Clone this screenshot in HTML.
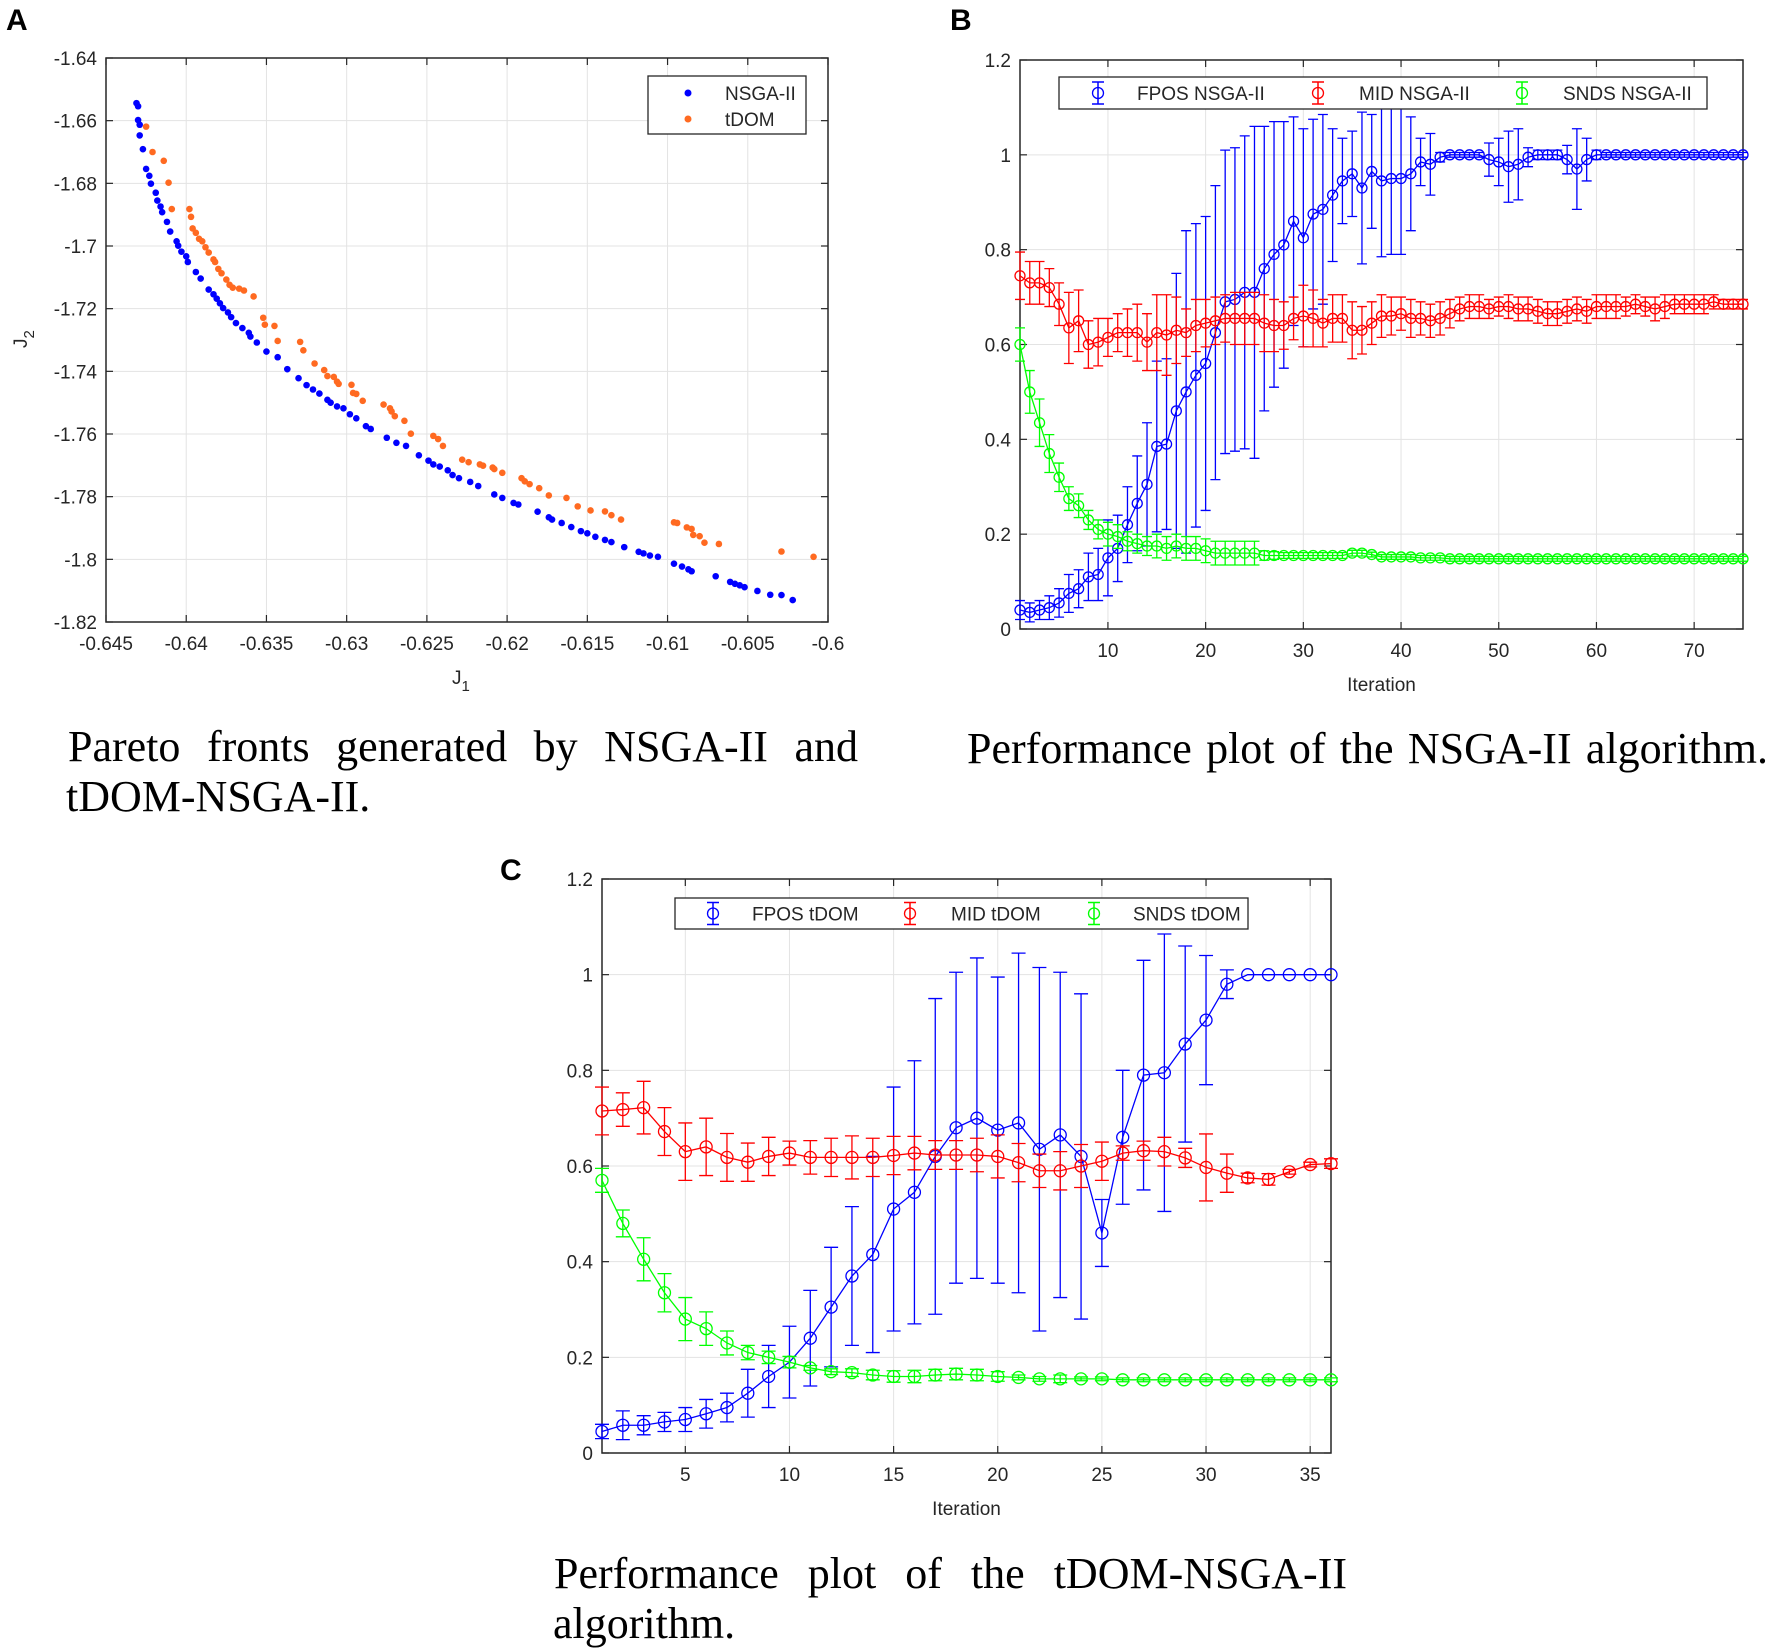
<!DOCTYPE html>
<html><head><meta charset="utf-8">
<style>
html,body{margin:0;padding:0;background:#fff;}
body{width:1772px;height:1651px;overflow:hidden;position:relative;}
svg{position:absolute;left:0;top:0;}
.tk{font-family:"Liberation Sans",Arial,sans-serif;font-size:19px;fill:#262626;}
.cap{font-family:"Liberation Serif","Times New Roman",serif;font-size:44px;fill:#000;}
.pl{font-family:"Liberation Sans",Arial,sans-serif;font-size:30px;font-weight:bold;fill:#000;}
</style></head>
<body>
<svg id="fig" width="1772" height="1651" viewBox="0 0 1772 1651">
<text class="pl" x="6" y="30">A</text>
<text class="pl" x="950" y="30">B</text>
<text class="pl" x="500" y="880">C</text>
<text class="cap jus" data-w="790" x="68" y="761">Pareto fronts generated by NSGA-II and</text>
<text class="cap" x="66" y="811">tDOM-NSGA-II.</text>
<text class="cap jus" data-w="801" x="967" y="763">Performance plot of the NSGA-II algorithm.</text>
<text class="cap jus" data-w="793" x="554" y="1588">Performance plot of the tDOM-NSGA-II</text>
<text class="cap" x="553" y="1638">algorithm.</text>
</svg>
<script>
// ---------- Panel A data ----------
const nsgaX = [-0.6431,-0.6430,-0.6430,-0.6429,-0.6429,-0.6427,-0.6425,-0.6423,-0.6422,-0.6419,-0.6418,-0.6416,-0.6415,-0.6412,-0.6410,-0.6406,-0.6405,-0.6403,-0.6400,-0.6399,-0.6394,-0.6391,-0.6386,-0.6383,-0.6381,-0.6379,-0.6377,-0.6374,-0.6372,-0.6369,-0.6365,-0.6361,-0.6360,-0.6356,-0.6350,-0.6343,-0.6337,-0.6330,-0.6325,-0.6321,-0.6317,-0.6312,-0.6310,-0.6306,-0.6302,-0.6298,-0.6294,-0.6288,-0.6285,-0.6275,-0.6269,-0.6263,-0.6255,-0.6249,-0.6246,-0.6242,-0.6237,-0.6234,-0.6230,-0.6223,-0.6218,-0.6208,-0.6203,-0.6196,-0.6193,-0.6181,-0.6174,-0.6172,-0.6166,-0.6160,-0.6154,-0.6150,-0.6145,-0.6139,-0.6135,-0.6127,-0.6118,-0.6115,-0.6111,-0.6106,-0.6096,-0.6091,-0.6087,-0.6085,-0.6070,-0.6061,-0.6058,-0.6055,-0.6052,-0.6044,-0.6036,-0.6029,-0.6022];
const nsgaY = [-1.6544,-1.6554,-1.6598,-1.6613,-1.6647,-1.6691,-1.6754,-1.6776,-1.6801,-1.6830,-1.6855,-1.6874,-1.6892,-1.6923,-1.6954,-1.6985,-1.6999,-1.7018,-1.7033,-1.7051,-1.7083,-1.7104,-1.7139,-1.7154,-1.7168,-1.7183,-1.7198,-1.7212,-1.7227,-1.7246,-1.7262,-1.7277,-1.7289,-1.7308,-1.7337,-1.7355,-1.7393,-1.7422,-1.7444,-1.7458,-1.7471,-1.7491,-1.7500,-1.7512,-1.7518,-1.7537,-1.7550,-1.7575,-1.7584,-1.7612,-1.7628,-1.7638,-1.7668,-1.7685,-1.7697,-1.7704,-1.7716,-1.7731,-1.7741,-1.7753,-1.7766,-1.7793,-1.7804,-1.7820,-1.7825,-1.7848,-1.7866,-1.7873,-1.7884,-1.7897,-1.7910,-1.7917,-1.7928,-1.7938,-1.7945,-1.7961,-1.7976,-1.7981,-1.7988,-1.7992,-1.8014,-1.8023,-1.8032,-1.8038,-1.8054,-1.8072,-1.8078,-1.8083,-1.8089,-1.8101,-1.8113,-1.8114,-1.8130];
const tdomX = [-0.6425,-0.6421,-0.6414,-0.6411,-0.6409,-0.6398,-0.6397,-0.6396,-0.6394,-0.6392,-0.6390,-0.6388,-0.6386,-0.6383,-0.6382,-0.6380,-0.6378,-0.6375,-0.6373,-0.6371,-0.6367,-0.6364,-0.6358,-0.6352,-0.6351,-0.6345,-0.6343,-0.6329,-0.6327,-0.6320,-0.6314,-0.6312,-0.6308,-0.6306,-0.6305,-0.6297,-0.6296,-0.6294,-0.6290,-0.6277,-0.6273,-0.6272,-0.6270,-0.6264,-0.6260,-0.6246,-0.6243,-0.6240,-0.6228,-0.6224,-0.6217,-0.6215,-0.6209,-0.6208,-0.6203,-0.6191,-0.6189,-0.6186,-0.6180,-0.6174,-0.6163,-0.6156,-0.6148,-0.6139,-0.6135,-0.6129,-0.6096,-0.6094,-0.6088,-0.6085,-0.6084,-0.6080,-0.6077,-0.6068,-0.6029,-0.6009];
const tdomY = [-1.6619,-1.6700,-1.6728,-1.6798,-1.6882,-1.6882,-1.6907,-1.6944,-1.6958,-1.6977,-1.6985,-1.7004,-1.7021,-1.7043,-1.7051,-1.7073,-1.7087,-1.7107,-1.7124,-1.7133,-1.7136,-1.7142,-1.7161,-1.7229,-1.7251,-1.7255,-1.7303,-1.7306,-1.7333,-1.7375,-1.7396,-1.7415,-1.7418,-1.7433,-1.7440,-1.7443,-1.7469,-1.7472,-1.7494,-1.7506,-1.7518,-1.7528,-1.7543,-1.7558,-1.7599,-1.7606,-1.7616,-1.7638,-1.7682,-1.7690,-1.7697,-1.7701,-1.7707,-1.7712,-1.7724,-1.7741,-1.7751,-1.7760,-1.7773,-1.7796,-1.7804,-1.7831,-1.7844,-1.7847,-1.7859,-1.7873,-1.7882,-1.7884,-1.7898,-1.7903,-1.7922,-1.7926,-1.7947,-1.7951,-1.7975,-1.7992];
const aXTicks = [-0.645,-0.64,-0.635,-0.63,-0.625,-0.62,-0.615,-0.61,-0.605,-0.6];
const aYTicks = [-1.64,-1.66,-1.68,-1.7,-1.72,-1.74,-1.76,-1.78,-1.8,-1.82];

// ---------- Panel B data ----------
const bFposMean = [0.04,0.035,0.04,0.045,0.055,0.075,0.085,0.11,0.115,0.15,0.17,0.22,0.265,0.305,0.385,0.39,0.46,0.5,0.535,0.56,0.625,0.69,0.695,0.71,0.71,0.76,0.79,0.81,0.86,0.825,0.875,0.885,0.915,0.945,0.96,0.93,0.965,0.945,0.95,0.95,0.96,0.985,0.98,0.995,1,1,1,1,0.99,0.985,0.975,0.98,0.995,1,1,1,0.99,0.97,0.99,1,1,1,1,1,1,1,1,1,1,1,1,1,1,1,1];
const bFposErr = [0.02,0.02,0.02,0.025,0.03,0.04,0.04,0.05,0.055,0.08,0.07,0.08,0.1,0.13,0.18,0.18,0.29,0.34,0.32,0.31,0.31,0.32,0.32,0.33,0.35,0.3,0.28,0.26,0.22,0.23,0.2,0.2,0.14,0.09,0.09,0.16,0.12,0.16,0.16,0.16,0.12,0.05,0.065,0.01,0.005,0.005,0.005,0.005,0.035,0.05,0.075,0.075,0.02,0.01,0.01,0.01,0.03,0.085,0.045,0.01,0.005,0.005,0.005,0.005,0.005,0.005,0.005,0.005,0.005,0.005,0.005,0.005,0.005,0.005,0.005];
const bMidMean = [0.745,0.73,0.73,0.72,0.685,0.635,0.65,0.6,0.605,0.615,0.625,0.625,0.625,0.605,0.625,0.62,0.63,0.625,0.64,0.645,0.65,0.655,0.655,0.655,0.655,0.645,0.64,0.64,0.655,0.66,0.655,0.645,0.655,0.655,0.63,0.63,0.645,0.66,0.66,0.665,0.655,0.655,0.65,0.655,0.665,0.675,0.68,0.68,0.675,0.68,0.68,0.675,0.675,0.67,0.665,0.665,0.67,0.675,0.67,0.68,0.68,0.68,0.68,0.685,0.68,0.675,0.68,0.685,0.685,0.685,0.685,0.69,0.685,0.685,0.685];
const bMidErr = [0.05,0.045,0.045,0.04,0.045,0.075,0.065,0.05,0.05,0.04,0.04,0.05,0.06,0.06,0.08,0.085,0.07,0.05,0.055,0.05,0.05,0.05,0.055,0.055,0.055,0.06,0.055,0.05,0.045,0.065,0.06,0.05,0.05,0.05,0.06,0.05,0.045,0.045,0.04,0.035,0.04,0.035,0.035,0.035,0.03,0.025,0.025,0.025,0.02,0.02,0.025,0.025,0.025,0.025,0.025,0.025,0.025,0.025,0.025,0.025,0.025,0.025,0.02,0.02,0.02,0.025,0.025,0.02,0.02,0.02,0.02,0.015,0.01,0.01,0.01];
const bSndsMean = [0.6,0.5,0.435,0.37,0.32,0.275,0.26,0.23,0.21,0.2,0.195,0.185,0.18,0.175,0.175,0.17,0.175,0.17,0.17,0.165,0.16,0.16,0.16,0.16,0.16,0.155,0.155,0.155,0.155,0.155,0.155,0.155,0.155,0.155,0.16,0.16,0.157,0.152,0.152,0.152,0.152,0.15,0.15,0.15,0.148,0.148,0.148,0.148,0.148,0.148,0.148,0.148,0.148,0.148,0.148,0.148,0.148,0.148,0.148,0.148,0.148,0.148,0.148,0.148,0.148,0.148,0.148,0.148,0.148,0.148,0.148,0.148,0.148,0.148,0.148];
const bSndsErr = [0.035,0.045,0.05,0.04,0.03,0.025,0.025,0.02,0.02,0.025,0.025,0.02,0.02,0.02,0.025,0.025,0.025,0.025,0.025,0.025,0.025,0.025,0.025,0.025,0.025,0.01,0.008,0.006,0.006,0.006,0.006,0.006,0.006,0.006,0.006,0.006,0.005,0.005,0.005,0.005,0.005,0.005,0.005,0.005,0.005,0.005,0.005,0.005,0.005,0.005,0.005,0.005,0.005,0.005,0.005,0.005,0.005,0.005,0.005,0.005,0.005,0.005,0.005,0.005,0.005,0.005,0.005,0.005,0.005,0.005,0.005,0.005,0.005,0.005,0.005];
const bXTicks = [10,20,30,40,50,60,70];
const yTicksPerf = [0,0.2,0.4,0.6,0.8,1,1.2];

// ---------- Panel C data ----------
const cFposMean = [0.045,0.058,0.058,0.065,0.07,0.082,0.095,0.125,0.16,0.19,0.24,0.305,0.37,0.415,0.51,0.545,0.62,0.68,0.7,0.675,0.69,0.635,0.665,0.62,0.46,0.66,0.79,0.795,0.855,0.905,0.98,1,1,1,1,1];
const cFposErr = [0.015,0.03,0.02,0.02,0.025,0.03,0.03,0.05,0.065,0.075,0.1,0.125,0.145,0.205,0.255,0.275,0.33,0.325,0.335,0.32,0.355,0.38,0.34,0.34,0.07,0.14,0.24,0.29,0.205,0.135,0.03,0,0,0,0,0];
const cMidMean = [0.715,0.718,0.722,0.672,0.63,0.64,0.618,0.608,0.62,0.627,0.618,0.618,0.618,0.618,0.622,0.627,0.623,0.623,0.623,0.62,0.607,0.59,0.59,0.6,0.61,0.627,0.632,0.63,0.617,0.597,0.585,0.575,0.572,0.588,0.603,0.605];
const cMidErr = [0.05,0.035,0.055,0.05,0.06,0.06,0.05,0.04,0.04,0.025,0.035,0.04,0.045,0.04,0.04,0.035,0.03,0.03,0.035,0.045,0.04,0.035,0.04,0.045,0.04,0.015,0.02,0.03,0.02,0.07,0.04,0.01,0.012,0.005,0.005,0.01];
const cSndsMean = [0.57,0.48,0.405,0.335,0.28,0.26,0.23,0.21,0.2,0.19,0.178,0.17,0.168,0.163,0.16,0.16,0.163,0.165,0.163,0.16,0.158,0.155,0.155,0.155,0.155,0.153,0.153,0.153,0.153,0.153,0.153,0.153,0.153,0.153,0.153,0.153];
const cSndsErr = [0.025,0.028,0.045,0.04,0.045,0.035,0.025,0.015,0.013,0.012,0.005,0.006,0.008,0.01,0.012,0.013,0.012,0.012,0.012,0.01,0.005,0.005,0.008,0.004,0.004,0.004,0.004,0.004,0.004,0.004,0.004,0.004,0.004,0.004,0.004,0.004];
const cXTicks = [5,10,15,20,25,30,35];

const NS = "http://www.w3.org/2000/svg";
const svg = document.getElementById('fig');
function mk(tag, attrs, parent) {
  const e = document.createElementNS(NS, tag);
  for (const k in attrs) e.setAttribute(k, attrs[k]);
  (parent || svg).appendChild(e);
  return e;
}
function linScale(d0, d1, r0, r1) { return v => r0 + (v - d0) / (d1 - d0) * (r1 - r0); }

// justify captions via word spacing
document.querySelectorAll('text.jus').forEach(t => {
  const target = +t.getAttribute('data-w');
  const w = t.getComputedTextLength();
  const gaps = t.textContent.split(' ').length - 1;
  if (gaps > 0) t.setAttribute('word-spacing', Math.max(-5, (target - w) / gaps));
});

function axesFrame(L, R, T, B, xs, ys, xTicks, yTicks, xFmt, yFmt, name) {
  const g = mk('g', {});
  
  
  xTicks.forEach(t => {
    const x = xs(t);
    const gl = mk('line', {x1:x, x2:x, y1:T, y2:B, stroke:'#e3e3e3', 'stroke-width':1}, g);
    
    
    mk('line', {x1:x, x2:x, y1:B, y2:B-7, stroke:'#262626', 'stroke-width':1.2}, g);
    mk('line', {x1:x, x2:x, y1:T, y2:T+7, stroke:'#262626', 'stroke-width':1.2}, g);
    const tx = mk('text', {x:x, y:B+28, 'text-anchor':'middle', class:'tk'}, g);
    tx.textContent = xFmt(t);
    
    
  });
  yTicks.forEach(t => {
    const y = ys(t);
    const gl = mk('line', {x1:L, x2:R, y1:y, y2:y, stroke:'#e3e3e3', 'stroke-width':1}, g);
    
    
    mk('line', {x1:L, x2:L+7, y1:y, y2:y, stroke:'#262626', 'stroke-width':1.2}, g);
    mk('line', {x1:R, x2:R-7, y1:y, y2:y, stroke:'#262626', 'stroke-width':1.2}, g);
    const tx = mk('text', {x:L-9, y:y+7, 'text-anchor':'end', class:'tk'}, g);
    tx.textContent = yFmt(t);
    
    
  });
  const fr = mk('rect', {x:L, y:T, width:R-L, height:B-T, fill:'none', stroke:'#262626', 'stroke-width':1.5}, g);
  
  
}

// ---------- Panel A ----------
(function(){
  const L=106,R=828,T=58,B=622;
  const xs = linScale(-0.645,-0.6,L,R), ys = linScale(-1.64,-1.82,T,B);
  axesFrame(L,R,T,B,xs,ys,aXTicks,aYTicks,v=>String(v),v=>String(v),'pareto');
  const gN = mk('g',{fill:'#0000ff'});
  
  
  nsgaX.forEach((x,i)=>{ const c=mk('circle',{cx:xs(x),cy:ys(nsgaY[i]),r:3.3},gN);
    
     });
  const gT = mk('g',{fill:'#ff6a21'});
  
  
  tdomX.forEach((x,i)=>{ const c=mk('circle',{cx:xs(x),cy:ys(tdomY[i]),r:3.3},gT);
    
     });
  const lg = mk('g',{});
  
  
  mk('rect',{x:648,y:76,width:158,height:58,fill:'#fff',stroke:'#262626','stroke-width':1.3},lg);
  mk('circle',{cx:688,cy:93,r:3.5,fill:'#0000ff'},lg);
  mk('circle',{cx:688,cy:119,r:3.5,fill:'#ff6a21'},lg);
  const t1=mk('text',{x:725,y:100,class:'tk'},lg); t1.textContent='NSGA-II';
  
  
  const t2=mk('text',{x:725,y:126,class:'tk'},lg); t2.textContent='tDOM';
  
  
  const xl=mk('text',{x:452,y:684,class:'tk','font-size':'22'}); xl.innerHTML='J<tspan dy="7" font-size="15">1</tspan>';
  
  
  const yl=mk('text',{x:0,y:0,class:'tk','font-size':'22',transform:'translate(27,348) rotate(-90)'}); yl.innerHTML='J<tspan dy="7" font-size="15">2</tspan>';
  
  
})();

function perfPanel(L,R,T,B,xmax,xTicks,series,name,cap,legendBox,legendItems){
  const xs = linScale(1,xmax,L,R), ys = linScale(0,1.2,B,T);
  axesFrame(L,R,T,B,xs,ys,xTicks,yTicksPerf,v=>String(v),v=>String(v),name);
  series.forEach(s=>{
    const g = mk('g',{stroke:s.color,fill:'none','stroke-width':1.3});
    
    
    let d='';
    s.mean.forEach((m,i)=>{
      const x=xs(i+1), y=ys(m), yh=ys(Math.min(m+s.err[i],1.2)), yl=ys(m-s.err[i]);
      if (s.err[i]>0){
        const eb=mk('path',{d:`M${x},${yl}V${yh}M${x-cap},${yl}H${x+cap}` + (m+s.err[i]<=1.2?`M${x-cap},${yh}H${x+cap}`:'')},g);
        
        
      }
      d += (i?'L':'M') + x + ',' + y;
    });
    const ln=mk('path',{d:d},g);
    
    
    s.mean.forEach((m,i)=>{
      const c=mk('circle',{cx:xs(i+1),cy:ys(m),r:s.r},g);
      
      
    });
  });
  const lg = mk('g',{});
  
  
  mk('rect',{x:legendBox[0],y:legendBox[1],width:legendBox[2],height:legendBox[3],fill:'#fff',stroke:'#262626','stroke-width':1.3},lg);
  const cy = legendBox[1]+legendBox[3]/2;
  legendItems.forEach(it=>{
    mk('path',{d:`M${it.x},${cy-11}V${cy+11}M${it.x-6},${cy-11}H${it.x+6}M${it.x-6},${cy+11}H${it.x+6}`,stroke:it.color,fill:'none','stroke-width':1.5},lg);
    mk('circle',{cx:it.x,cy:cy,r:5.5,stroke:it.color,fill:'none','stroke-width':1.3},lg);
    const t=mk('text',{x:it.tx,y:cy+7,class:'tk'},lg); t.textContent=it.label;
    
    
  });
  const xl=mk('text',{x:(L+R)/2,y:B+62,'text-anchor':'middle',class:'tk','font-size':'21'}); xl.textContent='Iteration';
  
  
}

perfPanel(1020,1743,60,629,75,bXTicks,[
  {name:'fpos-nsga-ii',color:'#0000ff',mean:bFposMean,err:bFposErr,r:5},
  {name:'mid-nsga-ii',color:'#ff0000',mean:bMidMean,err:bMidErr,r:5},
  {name:'snds-nsga-ii',color:'#00ff00',mean:bSndsMean,err:bSndsErr,r:5}
],'nsga-perf',5,[1059,77,648,32],[
  {x:1098,tx:1137,label:'FPOS NSGA-II',color:'#0000ff'},
  {x:1318,tx:1359,label:'MID NSGA-II',color:'#ff0000'},
  {x:1522,tx:1563,label:'SNDS NSGA-II',color:'#00ff00'}
]);

perfPanel(602,1331,879,1453,36,cXTicks,[
  {name:'fpos-tdom',color:'#0000ff',mean:cFposMean,err:cFposErr,r:6},
  {name:'mid-tdom',color:'#ff0000',mean:cMidMean,err:cMidErr,r:6},
  {name:'snds-tdom',color:'#00ff00',mean:cSndsMean,err:cSndsErr,r:6}
],'tdom-perf',7,[675,898,573,31],[
  {x:713,tx:752,label:'FPOS tDOM',color:'#0000ff'},
  {x:910,tx:951,label:'MID tDOM',color:'#ff0000'},
  {x:1094,tx:1133,label:'SNDS tDOM',color:'#00ff00'}
]);
</script>
</body></html>
